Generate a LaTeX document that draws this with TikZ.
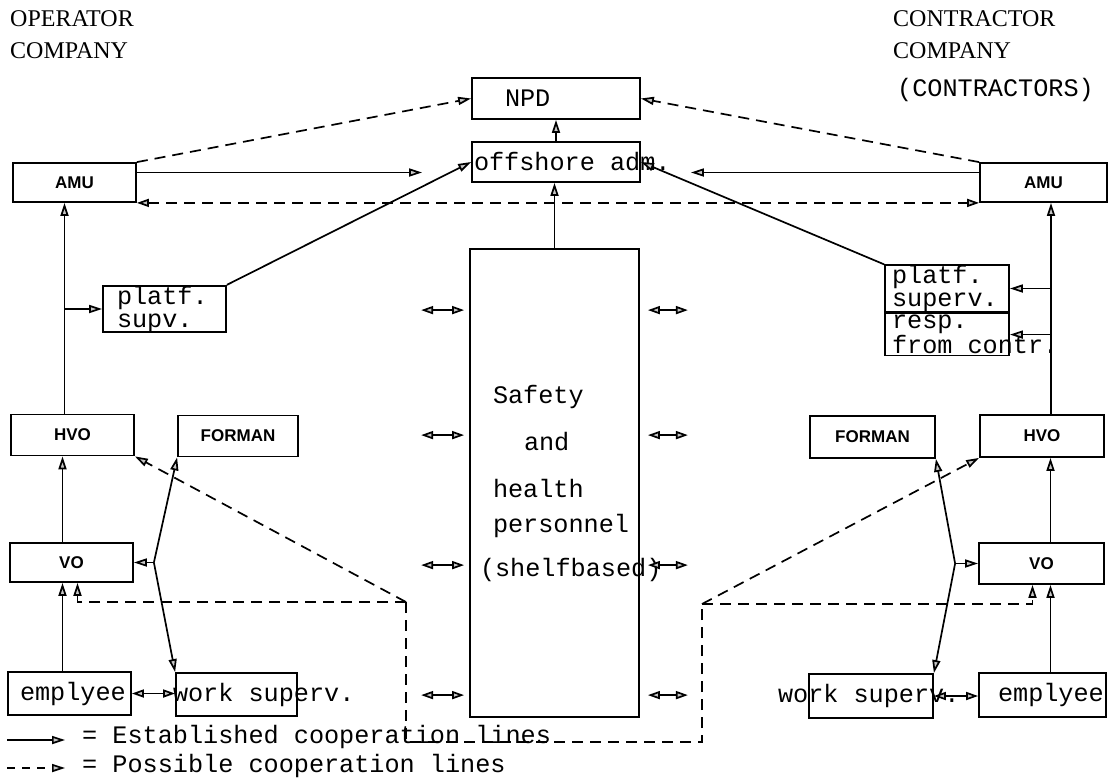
\documentclass[tikz,border=0pt]{standalone}
\usepackage{fontspec}
\newfontfamily\mono{Liberation Mono}
\newfontfamily\hsans{Liberation Sans}
\newfontfamily\hserif{Liberation Serif}
\usetikzlibrary{arrows.meta,calc}
% keep the full typewriter word space inside nodes
\newcommand{\mline}[1]{\mbox{\spaceskip=0pt\relax #1}}

\begin{document}
\begin{tikzpicture}[x=1pt, y=-1pt,
    box/.style={draw, line width=1.8pt, inner ysep=0pt, minimum height=41pt},
    tbox/.style={box, align=left, font=\mono\fontsize{25.2}{23}\selectfont},
    sbox/.style={box, minimum width=124pt,
                 font=\hsans\bfseries\fontsize{17}{20}\selectfont},
    heading/.style={anchor=north west, inner sep=0pt, align=left,
                    font=\hserif\fontsize{24}{32}\selectfont},
    legtext/.style={anchor=west, inner sep=0pt,
                    font=\mono\fontsize{25.2}{23}\selectfont},
    arr/.style={line width=1.7pt,
                -{Triangle[length=13pt, width=8pt, fill=gray!45]}},
    dblarr/.style={line width=1.7pt,
                   {Triangle[length=12pt, width=8pt, fill=gray!45]}-{Triangle[length=12pt, width=8pt, fill=gray!45]}},
    dsh/.style={line width=1.7pt, dash pattern=on 11pt off 7pt},
    darr/.style={arr, dsh},
    ddblarr/.style={dblarr, dsh}
  ]
  \useasboundingbox (0,0) rectangle (1108,780);

  % Headings
  \node[heading] (opco)  at (10,10)  {OPERATOR\\COMPANY};
  \node[heading] (conco) at (893,10) {CONTRACTOR\\COMPANY\\[6pt]%
        {\mono\fontsize{25.2}{23}\selectfont\hspace*{4pt}(CONTRACTORS)}};

  % Top nodes
  \node[tbox, text width=102pt, inner xsep=33pt] (npd) at (556,98.5) {NPD};
  \node[tbox, text width=164pt, inner xsep=2pt, minimum height=40pt]
       (offs) at (556,162) {\mline{offshore adm.}};
  \node[sbox, minimum width=123pt, minimum height=39pt] (amuL) at (74.5,182.5)  {AMU};
  \node[sbox, minimum width=127pt, minimum height=39pt] (amuR) at (1043.5,182.5) {AMU};

  % Safety block
  \node[tbox, text width=123pt, inner xsep=23pt, minimum height=468pt]
       (safety) at (554.5,483)
       {Safety\\[23pt]\hspace*{31pt}and\\[24pt]health\\[12pt]\mbox{personnel}\\[19pt]%
        \hspace*{-13pt}\mbox{(shelfbased)}};

  % Platform supervision
  \node[tbox, text width=95pt, inner xsep=14pt, minimum height=44pt]
       (platfL) at (164.5,309) {platf.\\supv.};
  \node[tbox, text width=110pt, inner xsep=7pt, minimum height=45pt]
       (platfR) at (947,288.5) {platf.\\superv.};
  \node[tbox, text width=110pt, inner xsep=7pt, minimum height=42pt, anchor=north]
       (respR) at (platfR.south) {resp.\\\mline{from contr.}};

  % Operator side
  \node[sbox, minimum width=123pt] (hvoL)  at (72.5,435)   {HVO};
  \node[sbox, minimum width=120pt] (formL) at (238,436)    {FORMAN};
  \node[sbox, minimum width=123pt, minimum height=39pt] (voL) at (71.5,562.5) {VO};
  \node[tbox, text width=99pt, inner xsep=12pt, minimum height=43pt]
       (empL) at (69.5,693.5) {\mbox{emplyee}};
  \node[tbox, text width=121pt, inner xsep=0pt, minimum height=43pt]
       (workL) at (236.5,694.5) {\mline{\hspace*{-3pt}work superv.}};

  % Contractor side
  \node[sbox, minimum width=125pt, minimum height=42pt] (formR) at (872.5,437) {FORMAN};
  \node[sbox, minimum height=42pt] (hvoR) at (1042,436)   {HVO};
  \node[sbox, minimum width=125pt] (voR)  at (1041.5,563.5) {VO};
  \node[tbox, text width=124pt, inner xsep=0pt, minimum height=44pt]
       (workR) at (871,696) {\mline{\hspace*{-31pt}work superv.}};
  \node[tbox, text width=89pt, inner xsep=19pt, minimum height=44pt]
       (empR) at (1042.5,695) {\mbox{emplyee}};

  % Junctions
  \coordinate (jL) at ($(voL.east)+(20,0)$);
  \coordinate (jR) at ($(voR.west)+(-23,0)$);
  \coordinate (vL) at ([xshift=-8pt]hvoL.north);
  \coordinate (vR) at ([xshift=9pt]hvoR.north);
  \coordinate (dL) at (406,602);
  \coordinate (dR) at (702,604);

  % AMU → NPD / offshore adm.
  \draw[darr] (amuL.north east) -- (npd.west);
  \draw[darr] (amuR.north west) -- (npd.east);
  \draw[arr, shorten >=49pt] ([yshift=10pt]amuL.east) -- ([yshift=10pt]amuL.east -| offs.west);
  \draw[arr, shorten >=50pt] ([yshift=10pt]amuR.west) -- ([yshift=10pt]amuR.west -| offs.east);
  \draw[ddblarr] (amuL.south east) -- (amuR.south west);

  % offshore adm. links
  \draw[arr] (offs.north) -- (npd.south);
  \draw[arr] (safety.north) -- (safety.north |- offs.south);
  \draw[arr] (platfL.north east) -- (offs.west);
  \draw[arr] (platfR.north west) -- (offs.east);

  % Operator side lines
  \draw[arr] (vL) -- (vL |- amuL.south);
  \draw[arr] (vL |- platfL.west) -- (platfL.west);
  \draw[arr] ([xshift=-9pt]voL.north) -- ([xshift=-9pt]voL.north |- hvoL.south);
  \draw[arr] ([xshift=-9pt]voL.south |- empL.north) -- ([xshift=-9pt]voL.south);
  \draw[arr] (jL) -- (voL.east);
  \draw[arr] (jL) -- (formL.south west);
  \draw[arr] (jL) -- (workL.north west);
  \draw[dblarr] (empL.east) -- (empL.east -| workL.west);

  % Contractor side lines
  \draw[arr] (vR) -- (vR |- amuR.south);
  \draw[arr] (vR |- platfR.east) -- (platfR.east);
  \draw[arr] (vR |- respR.east) -- (respR.east);
  \draw[arr] ([xshift=9pt]voR.north) -- ([xshift=9pt]voR.north |- hvoR.south);
  \draw[arr] ([xshift=9pt]voR.south |- empR.north) -- ([xshift=9pt]voR.south);
  \draw[arr] (jR) -- (voR.west);
  \draw[arr] (jR) -- (formR.south east);
  \draw[arr] (jR) -- (workR.north east);
  \draw[dblarr] (workR.east) -- (workR.east -| empR.west);

  % Possible cooperation lines
  \draw[darr] (dL) -- (hvoL.south east);
  \draw[darr] (dL) -| ([xshift=6pt]voL.south);
  \draw[dsh] (dL) -- ++(0,140) -| (dR);
  \draw[darr] (dR) -- (hvoR.south west);
  \draw[darr] (dR) -| ([xshift=-9pt]voR.south);

  % Safety contacts
  \foreach \dy in {62,187,317,447}{
    \draw[dblarr] (safety.north west) ++(-48,\dy) -- ++(43,0);
    \draw[dblarr] (safety.north east) ++(8,\dy) -- ++(40,0);
  }

  % Legend
  \node[legtext] (leg1) at (82,737) {= Established cooperation lines};
  \node[legtext] (leg2) at (82,766) {= Possible cooperation lines};
  \draw[arr]  ($(leg1.west)+(-75,3)$) -- ($(leg1.west)+(-17,3)$);
  \draw[darr, dash pattern=on 8pt off 7pt] ($(leg2.west)+(-75,2)$) -- ($(leg2.west)+(-17,2)$);
\end{tikzpicture}
\end{document}
